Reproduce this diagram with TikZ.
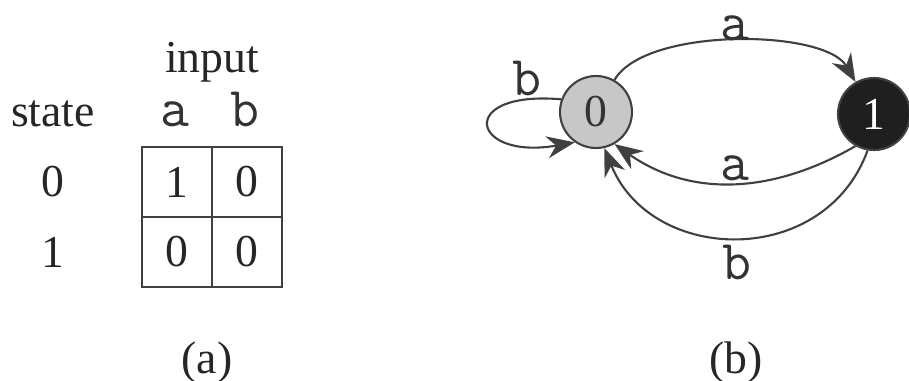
\documentclass[tikz,border=0pt]{standalone}
\usepackage{fontspec}
\setmainfont{Liberation Serif}
\usetikzlibrary{arrows.meta}
\tikzset{
  state/.style={circle, draw=black!75, line width=0.6pt, minimum size=7.2mm, inner sep=0pt},
  start/.style={state, fill=black!22, text=black!80},
  accept/.style={state, fill=black!88, text=white},
  cell/.style={draw=black!75, line width=0.6pt, minimum size=7mm, inner sep=0pt},
  sym/.style={font=\fontsize{16}{18}\selectfont\ttfamily, text=black!80},
  trans/.style={draw=black!75, line width=0.6pt, -{Stealth[length=2.8mm,width=2.2mm]}}
}

\begin{document}
\begin{tikzpicture}[font=\fontsize{13}{15}\selectfont, text=black!85]
  \useasboundingbox (0,0) rectangle (9.09,3.81);

  % (a) transition table
  \node[anchor=base] (input) at (2.12,3.08) {input};
  \node[anchor=base] (statelbl) at (0.53,2.54) {state};
  \node[sym, anchor=base] (ha) at (1.75,2.54) {a};
  \node[sym, anchor=base] (hb) at (2.45,2.54) {b};
  \node (r0) at (0.53,1.99) {0};
  \node (r1) at (0.53,1.29) {1};
  \node[cell] (c00) at (1.77,1.99) {1};
  \node[cell] (c01) at (2.47,1.99) {0};
  \node[cell] (c10) at (1.77,1.29) {0};
  \node[cell] (c11) at (2.47,1.29) {0};
  \node (capa) at (2.07,0.18) {(a)};

  % (b) state diagram
  \node[start] (q0) at (5.96,2.69) {0};
  \node[accept] (q1) at (8.74,2.67) {1};

  \draw[trans] (q0.160) .. controls +(175:1.06) and +(190:1.06) .. (q0.235);
  \draw[trans] (q0) to[out=60, in=120, looseness=0.65] (q1);
  \draw[trans] (q1.240) to[out=210, in=-35] (q0.-60);
  \draw[trans] (q1.260) to[out=250, in=-68, looseness=1.22] (q0.-77);

  \node[sym] (lb0) at (5.27,3.03) {b};
  \node[sym] (la01) at (7.35,3.53) {a};
  \node[sym] (la10) at (7.35,2.13) {a};
  \node[sym] (lb10) at (7.37,1.19) {b};
  \node (capb) at (7.36,0.18) {(b)};
\end{tikzpicture}
\end{document}
